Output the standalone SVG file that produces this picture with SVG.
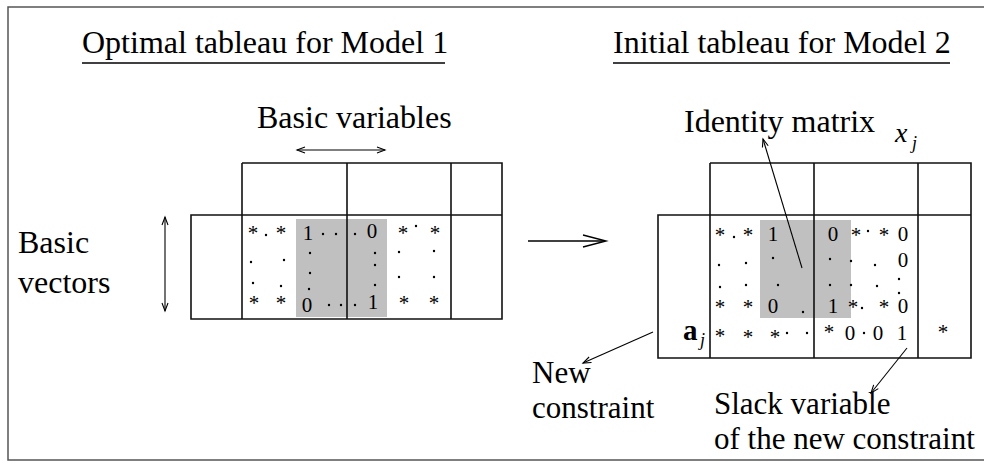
<svg xmlns="http://www.w3.org/2000/svg" width="984" height="462" viewBox="0 0 984 462">
<style>
text{font-family:'Liberation Serif',serif;fill:#000}
.lbl{font-size:32px}
.sm{font-size:31px}
.c{font-size:21px;text-anchor:middle}
.tb{fill:none;stroke:#111;stroke-width:1.6}
.ln{fill:none;stroke:#000;stroke-width:1.1}
.dt{fill:#000}
</style>
<defs>
<marker id="ah" markerUnits="userSpaceOnUse" markerWidth="14" markerHeight="12" refX="0" refY="0" viewBox="-10 -6 12 12" orient="auto-start-reverse" overflow="visible">
<path d="M-8,-3 L0,0 L-8,3" fill="none" stroke="#000" stroke-width="1.1"/>
</marker>
</defs>
<rect x="8" y="7" width="990" height="453" fill="#fff" stroke="#555" stroke-width="1.5"/>

<g id="title-left">
<text class="lbl" x="82" y="53">Optimal tableau for Model 1</text>
<line x1="82" y1="63" x2="445" y2="63" stroke="#000" stroke-width="1.4"/>
</g>
<g id="title-right">
<text class="lbl" x="613" y="53">Initial tableau for Model 2</text>
<line x1="613" y1="63" x2="950" y2="63" stroke="#000" stroke-width="1.4"/>
</g>

<g id="label-basic-variables"><text class="lbl" x="257" y="128">Basic variables</text></g>
<g id="label-basic-vectors"><text class="lbl" x="18" y="253">Basic<tspan x="18" y="293">vectors</tspan></text></g>
<g id="label-identity"><text class="lbl" x="684" y="132">Identity matrix</text></g>
<g id="label-xj"><text x="895" y="142" font-size="28" font-style="italic">x<tspan x="912" y="149" font-size="18">j</tspan></text></g>
<g id="label-new-constraint"><text class="sm" x="532" y="383">New<tspan x="532" y="418">constraint</tspan></text></g>
<g id="label-slack"><text class="sm" x="714" y="414">Slack variable<tspan x="714" y="449">of the new constraint</tspan></text></g>

<g id="tableau-left">
<rect x="296" y="219" width="91" height="98" fill="#c0c0c0"/>
<path class="tb" d="M242,163 H502 V319 H191 V215 H502 M242,163 V319 M347,163 V319 M451,163 V319"/>
<text class="c" x="253" y="240">*</text><text class="c" x="281" y="240">*</text>
<text class="c" x="308" y="240">1</text><text class="c" x="372" y="238">0</text>
<text class="c" x="403" y="240">*</text><text class="c" x="435" y="240">*</text>
<text class="c" x="254" y="310">*</text><text class="c" x="281" y="310">*</text>
<text class="c" x="307" y="312">0</text><text class="c" x="373" y="309">1</text>
<text class="c" x="404" y="310">*</text><text class="c" x="434" y="310">*</text>
<g class="dt">
<circle cx="266" cy="235" r="1.2"/>
<circle cx="323" cy="234" r="1.2"/><circle cx="336" cy="234" r="1.2"/><circle cx="355" cy="234" r="1.2"/>
<circle cx="416" cy="226" r="1.2"/>
<circle cx="251" cy="262" r="1.2"/><circle cx="284" cy="260" r="1.2"/><circle cx="310" cy="253" r="1.2"/>
<circle cx="375" cy="253" r="1.2"/><circle cx="375" cy="265" r="1.2"/><circle cx="399" cy="252" r="1.2"/><circle cx="434" cy="251" r="1.2"/>
<circle cx="253" cy="283" r="1.2"/><circle cx="281" cy="286" r="1.2"/><circle cx="310" cy="273" r="1.2"/><circle cx="309" cy="289" r="1.2"/>
<circle cx="375" cy="285" r="1.2"/><circle cx="399" cy="277" r="1.2"/><circle cx="434" cy="277" r="1.2"/>
<circle cx="329" cy="305" r="1.2"/><circle cx="341" cy="305" r="1.2"/><circle cx="355" cy="305" r="1.2"/>
</g>
</g>

<g id="tableau-right">
<rect x="760" y="220" width="91" height="98" fill="#c0c0c0"/>
<path class="tb" d="M710,163 H971 V358 H658 V215 H971 M710,163 V358 M814,163 V358 M918,163 V358"/>
<text x="683" y="340" font-size="29" font-weight="bold">a<tspan x="700" y="346" font-size="18" font-weight="normal" font-style="italic">j</tspan></text>
<text class="c" x="720" y="242">*</text><text class="c" x="748" y="242">*</text>
<text class="c" x="773" y="241">1</text><text class="c" x="833" y="241">0</text>
<text class="c" x="856" y="242">*</text><text class="c" x="884" y="242">*</text><text class="c" x="903" y="241">0</text>
<text class="c" x="903" y="267">0</text>
<text class="c" x="720" y="314">*</text><text class="c" x="748" y="314">*</text>
<text class="c" x="773" y="313">0</text><text class="c" x="833" y="313">1</text>
<text class="c" x="853" y="314">*</text><text class="c" x="884" y="314">*</text><text class="c" x="903" y="313">0</text>
<text class="c" x="720" y="343">*</text><text class="c" x="748" y="344">*</text><text class="c" x="775" y="344">*</text>
<text class="c" x="829" y="339">*</text><text class="c" x="850" y="340">0</text><text class="c" x="878" y="340">0</text><text class="c" x="902" y="340">1</text>
<text class="c" x="943" y="339">*</text>
<g class="dt">
<circle cx="734" cy="237" r="1.2"/><circle cx="868" cy="231" r="1.2"/>
<circle cx="719" cy="265" r="1.2"/><circle cx="746" cy="263" r="1.2"/><circle cx="773" cy="258" r="1.2"/>
<circle cx="830" cy="259" r="1.2"/><circle cx="851" cy="261" r="1.2"/><circle cx="875" cy="265" r="1.2"/>
<circle cx="720" cy="287" r="1.2"/><circle cx="746" cy="285" r="1.2"/><circle cx="778" cy="285" r="1.2"/>
<circle cx="830" cy="285" r="1.2"/><circle cx="851" cy="285" r="1.2"/><circle cx="877" cy="286" r="1.2"/>
<circle cx="899" cy="279" r="1.2"/><circle cx="899" cy="293" r="1.2"/>
<circle cx="803" cy="312" r="1.2"/><circle cx="862" cy="308" r="1.2"/>
<circle cx="787" cy="333" r="1.2"/><circle cx="807" cy="333" r="1.2"/><circle cx="864" cy="333" r="1.2"/>
</g>
</g>

<g id="connectors">
<line class="ln" x1="297" y1="150" x2="385" y2="150" marker-start="url(#ah)" marker-end="url(#ah)"/>
<line class="ln" x1="165" y1="217" x2="165" y2="311" marker-start="url(#ah)" marker-end="url(#ah)"/>
<line x1="528" y1="241" x2="605" y2="241" stroke="#000" stroke-width="1.6"/>
<path d="M583,235 L606,241 L583,247" fill="none" stroke="#000" stroke-width="1.4"/>
<line class="ln" x1="802" y1="268" x2="763" y2="139" marker-end="url(#ah)"/>
<line class="ln" x1="653" y1="332" x2="583" y2="363" marker-end="url(#ah)"/>
<line class="ln" x1="907" y1="348" x2="871" y2="393" marker-end="url(#ah)"/>
</g>
</svg>
